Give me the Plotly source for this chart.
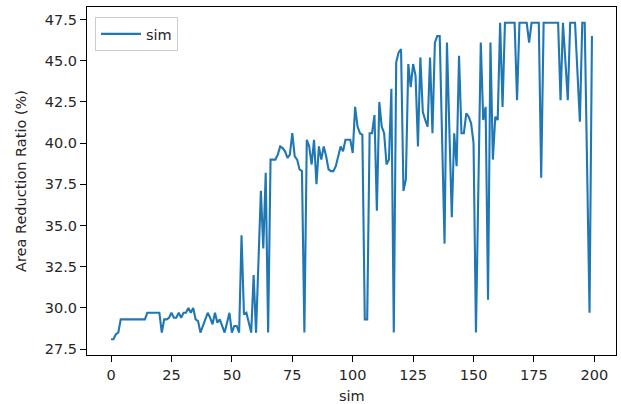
import plotly.graph_objects as go

sim_index = list(range(200))
area_reduction = [
    28.1, 28.1, 28.4, 28.5, 29.3, 29.3, 29.3, 29.3, 29.3, 29.3,
    29.3, 29.3, 29.3, 29.3, 29.3, 29.7, 29.7, 29.7, 29.7, 29.7,
    29.7, 28.5, 29.3, 29.3, 29.4, 29.7, 29.4, 29.4, 29.7, 29.4,
    29.7, 29.7, 30.0, 29.7, 30.0, 29.3, 29.2, 28.5, 28.9, 29.3,
    29.7, 29.4, 29.0, 29.7, 29.1, 29.3, 28.9, 28.5, 29.1, 29.7,
    28.5, 28.9, 28.9, 28.5, 34.4, 29.6, 29.7, 29.1, 28.5, 32.0,
    28.5, 32.8, 37.1, 33.6, 38.2, 28.5, 39.0, 39.0, 39.0, 39.3,
    39.8, 39.7, 39.5, 39.1, 39.3, 40.6, 39.2, 39.0, 38.4, 38.3,
    28.5, 40.2, 39.8, 38.7, 40.2, 37.5, 39.8, 39.0, 39.8, 39.2,
    38.4, 38.3, 38.3, 38.6, 39.3, 39.8, 39.5, 40.2, 40.2, 40.2,
    39.4, 42.2, 41.0, 40.6, 40.5, 29.3, 29.3, 40.6, 40.6, 41.7,
    35.9, 42.5, 41.0, 40.6, 38.7, 39.0, 43.3, 28.5, 44.9, 45.5,
    45.7, 37.1, 37.8, 44.8, 43.4, 44.8, 44.1, 39.8, 45.2, 41.9,
    41.4, 41.0, 45.2, 40.6, 46.1, 46.5, 46.5, 40.0, 33.9, 46.1,
    40.0, 35.5, 40.6, 38.6, 45.3, 40.6, 40.6, 41.8, 41.6, 41.2,
    40.0, 28.5, 37.3, 46.1, 41.4, 42.2, 30.5, 46.1, 39.0, 41.6,
    41.4, 47.3, 42.2, 47.3, 47.3, 47.3, 47.3, 47.3, 42.6, 47.3,
    47.3, 47.3, 47.3, 46.1, 47.3, 47.3, 47.3, 47.3, 37.9, 47.3,
    47.3, 47.3, 47.3, 47.3, 47.3, 47.3, 42.6, 47.3, 45.0, 42.6,
    47.3, 47.3, 47.3, 44.3, 41.3, 47.3, 47.3, 38.5, 29.7, 46.5,
]

x_ticks = [0, 25, 50, 75, 100, 125, 150, 175, 200]
y_ticks = [27.5, 30.0, 32.5, 35.0, 37.5, 40.0, 42.5, 45.0, 47.5]
x_label = "sim"
y_label = "Area Reduction Ratio (%)"

W, H = 621, 404
ML, MR, MT, MB = 87, 5, 7, 48.5
PW, PH = W - ML - MR, H - MT - MB

FONT = "DejaVu Sans"
FS = 14.5
TXT = "#262626"

fig = go.Figure()
fig.add_trace(go.Scatter(
    x=sim_index, y=area_reduction, mode="lines", name="sim",
    line=dict(color="#1f77b4", width=2.1),
))

axis_common = dict(
    showline=True, linecolor="black", linewidth=1.2, mirror=True,
    ticks="outside", ticklen=6, tickwidth=1.2, tickcolor="black",
    showgrid=False, zeroline=False, automargin=False,
    tickfont=dict(family=FONT, size=FS, color=TXT),
)

fig.update_layout(
    width=W, height=H,
    margin=dict(l=ML, r=MR, t=MT, b=MB, pad=0),
    paper_bgcolor="white", plot_bgcolor="white",
    font=dict(family=FONT, size=FS, color=TXT),
    xaxis=dict(range=[-9.95, 208.95], tickvals=x_ticks, **axis_common),
    yaxis=dict(range=[27.14, 48.26], tickvals=y_ticks, tickformat=".1f", **axis_common),
    showlegend=True,
    legend=dict(x=8 / PW, y=1 - 10 / PH, xanchor="left", yanchor="top",
                bgcolor="white", bordercolor="#cccccc", borderwidth=1,
                font=dict(family=FONT, size=FS, color=TXT), itemwidth=40),
    annotations=[
        dict(text=x_label, xref="paper", yref="paper", x=0.5,
             y=-(397 - (H - MB)) / PH, xanchor="center", yanchor="middle",
             showarrow=False, font=dict(family=FONT, size=FS, color=TXT)),
        dict(text=y_label, xref="paper", yref="paper", x=(21 - ML) / PW,
             y=0.5, xanchor="center", yanchor="middle", textangle=-90,
             showarrow=False, font=dict(family=FONT, size=FS, color=TXT)),
    ],
)

fig.write_html(
    "out.html",
    config={"displayModeBar": False},
    post_script="document.body.style.margin='0';document.body.style.overflow='hidden';",
)
